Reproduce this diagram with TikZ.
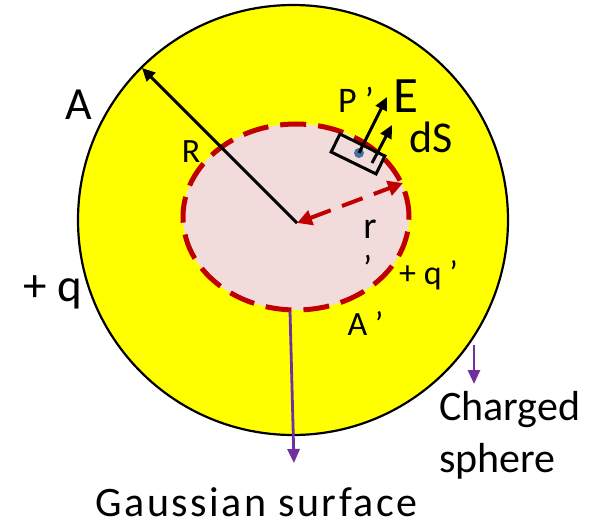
\documentclass[tikz,border=0pt]{standalone}
\usepackage{fontspec}
\setmainfont{Carlito}
\usetikzlibrary{arrows.meta,shapes.geometric}
\definecolor{yel}{RGB}{255,255,0}
\definecolor{gred}{RGB}{192,0,0}
\definecolor{pinkfill}{RGB}{242,220,219}
\definecolor{purp}{RGB}{112,48,160}
\definecolor{dotblue}{RGB}{68,114,160}
\begin{document}
\begin{tikzpicture}[x=1pt,y=-1pt,
  txt/.style={inner sep=0pt, anchor=base, font=\fontsize{#1}{#1}\selectfont},
  blk/.style={line width=3pt, -{Triangle[length=13pt,width=12pt]}},
  purarrow/.style={purp, line width=2.8pt, -{Triangle[length=14pt,width=12pt]}}]
\useasboundingbox (0,0) rectangle (597,524);
\node[circle, draw, line width=2.2pt, fill=yel, minimum size=430pt, inner sep=0pt] (sphere) at (293,220) {};
\node[ellipse, draw=gred, fill=pinkfill, line width=5pt, dash pattern=on 26pt off 12pt, minimum width=226pt, minimum height=186pt, inner sep=0pt] (gauss) at (296,217) {};
\coordinate (O) at (297,223);
\coordinate (Atip) at (142,68);
\coordinate (rtip) at (403,183);
\draw[blk] (O) -- (Atip);
\draw[gred, line width=4pt, dash pattern=on 22pt off 12pt, {Triangle[length=15pt,width=15pt]}-{Triangle[length=15pt,width=15pt]}] (O) -- (rtip);
\node[draw, line width=3pt, rotate=-26, minimum width=50pt, minimum height=20pt, inner sep=0pt] (box) at (358,154) {};
\node[circle, fill=dotblue, minimum size=10pt, inner sep=0pt] (dot) at (359,153) {};
\coordinate (Etip) at (387,97);
\coordinate (dSbase) at (372,163);
\coordinate (dStip) at (392,125);
\draw[blk] (dot.center) -- (Etip);
\draw[blk] (dSbase) -- (dStip);
\coordinate (gbot) at (290,311);
\coordinate (gend) at (294,463);
\coordinate (cstart) at (474,345);
\coordinate (cend) at (474,384);
\draw[purarrow] (gbot) -- (gend);
\draw[purarrow] (cstart) -- (cend);
\node[txt=46] (lA) at (78.5,120) {A};
\node[txt=47] (lq) at (52.5,301) {+ q};
\node[txt=34] (lR) at (191,162) {R};
\node[txt=36] (lP) at (356,113) {P ’};
\node[txt=51] (lE) at (406,113) {E};
\node[txt=44] (ldS) at (431.5,153) {dS};
\node[txt=38] (lr) at (370,238) {r};
\node[inner sep=0pt, font=\fontsize{36}{36}\selectfont] (lrp) at (367.5,268) {’};
\node[txt=34] (lqp) at (428.5,284) {+ q ’};
\node[txt=34] (lAp) at (365.5,335) {A ’};
\node[txt=42, font=\fontsize{42}{42}\selectfont\addfontfeature{LetterSpace=6}] (lgauss) at (256.5,516) {Gaussian surface};
\node[inner sep=0pt, anchor=north west, align=left, font=\fontsize{42}{52}\selectfont] (lcharged) at (439,391) {Charged\\sphere};
\end{tikzpicture}
\end{document}
